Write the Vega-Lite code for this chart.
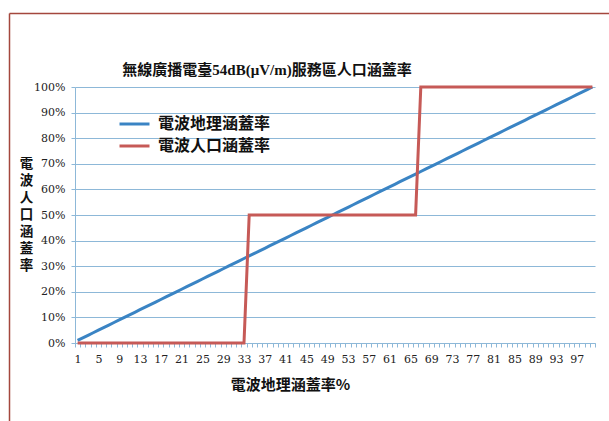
{
  "$schema": "https://vega.github.io/schema/vega-lite/v6.json",
  "width": 600,
  "height": 408,
  "autosize": {"type": "none"},
  "padding": {"left": 9, "top": 13, "right": 0, "bottom": 0},
  "background": "white",
  "config": {
    "view": {"stroke": null}
  },
  "title": {
    "text": "無線廣播電臺54dB(μV/m)服務區人口涵蓋率",
    "frame": "group",
    "anchor": "middle",
    "dx": -42,
    "offset": -72,
    "baseline": "middle",
    "font": "Liberation Serif, Noto Sans CJK TC",
    "fontSize": 15,
    "fontWeight": "bold",
    "color": "#111111"
  },
  "data": {
    "values": [
      {"c": 1, "geo": 0.01, "pop": 0}, {"c": 2, "geo": 0.02, "pop": 0}, {"c": 3, "geo": 0.03, "pop": 0}, {"c": 4, "geo": 0.04, "pop": 0},
      {"c": 5, "geo": 0.05, "pop": 0}, {"c": 6, "geo": 0.06, "pop": 0}, {"c": 7, "geo": 0.07, "pop": 0}, {"c": 8, "geo": 0.08, "pop": 0},
      {"c": 9, "geo": 0.09, "pop": 0}, {"c": 10, "geo": 0.10, "pop": 0}, {"c": 11, "geo": 0.11, "pop": 0}, {"c": 12, "geo": 0.12, "pop": 0},
      {"c": 13, "geo": 0.13, "pop": 0}, {"c": 14, "geo": 0.14, "pop": 0}, {"c": 15, "geo": 0.15, "pop": 0}, {"c": 16, "geo": 0.16, "pop": 0},
      {"c": 17, "geo": 0.17, "pop": 0}, {"c": 18, "geo": 0.18, "pop": 0}, {"c": 19, "geo": 0.19, "pop": 0}, {"c": 20, "geo": 0.20, "pop": 0},
      {"c": 21, "geo": 0.21, "pop": 0}, {"c": 22, "geo": 0.22, "pop": 0}, {"c": 23, "geo": 0.23, "pop": 0}, {"c": 24, "geo": 0.24, "pop": 0},
      {"c": 25, "geo": 0.25, "pop": 0}, {"c": 26, "geo": 0.26, "pop": 0}, {"c": 27, "geo": 0.27, "pop": 0}, {"c": 28, "geo": 0.28, "pop": 0},
      {"c": 29, "geo": 0.29, "pop": 0}, {"c": 30, "geo": 0.30, "pop": 0}, {"c": 31, "geo": 0.31, "pop": 0}, {"c": 32, "geo": 0.32, "pop": 0},
      {"c": 33, "geo": 0.33, "pop": 0}, {"c": 34, "geo": 0.34, "pop": 0.5}, {"c": 35, "geo": 0.35, "pop": 0.5}, {"c": 36, "geo": 0.36, "pop": 0.5},
      {"c": 37, "geo": 0.37, "pop": 0.5}, {"c": 38, "geo": 0.38, "pop": 0.5}, {"c": 39, "geo": 0.39, "pop": 0.5}, {"c": 40, "geo": 0.40, "pop": 0.5},
      {"c": 41, "geo": 0.41, "pop": 0.5}, {"c": 42, "geo": 0.42, "pop": 0.5}, {"c": 43, "geo": 0.43, "pop": 0.5}, {"c": 44, "geo": 0.44, "pop": 0.5},
      {"c": 45, "geo": 0.45, "pop": 0.5}, {"c": 46, "geo": 0.46, "pop": 0.5}, {"c": 47, "geo": 0.47, "pop": 0.5}, {"c": 48, "geo": 0.48, "pop": 0.5},
      {"c": 49, "geo": 0.49, "pop": 0.5}, {"c": 50, "geo": 0.50, "pop": 0.5}, {"c": 51, "geo": 0.51, "pop": 0.5}, {"c": 52, "geo": 0.52, "pop": 0.5},
      {"c": 53, "geo": 0.53, "pop": 0.5}, {"c": 54, "geo": 0.54, "pop": 0.5}, {"c": 55, "geo": 0.55, "pop": 0.5}, {"c": 56, "geo": 0.56, "pop": 0.5},
      {"c": 57, "geo": 0.57, "pop": 0.5}, {"c": 58, "geo": 0.58, "pop": 0.5}, {"c": 59, "geo": 0.59, "pop": 0.5}, {"c": 60, "geo": 0.60, "pop": 0.5},
      {"c": 61, "geo": 0.61, "pop": 0.5}, {"c": 62, "geo": 0.62, "pop": 0.5}, {"c": 63, "geo": 0.63, "pop": 0.5}, {"c": 64, "geo": 0.64, "pop": 0.5},
      {"c": 65, "geo": 0.65, "pop": 0.5}, {"c": 66, "geo": 0.66, "pop": 0.5}, {"c": 67, "geo": 0.67, "pop": 1}, {"c": 68, "geo": 0.68, "pop": 1},
      {"c": 69, "geo": 0.69, "pop": 1}, {"c": 70, "geo": 0.70, "pop": 1}, {"c": 71, "geo": 0.71, "pop": 1}, {"c": 72, "geo": 0.72, "pop": 1},
      {"c": 73, "geo": 0.73, "pop": 1}, {"c": 74, "geo": 0.74, "pop": 1}, {"c": 75, "geo": 0.75, "pop": 1}, {"c": 76, "geo": 0.76, "pop": 1},
      {"c": 77, "geo": 0.77, "pop": 1}, {"c": 78, "geo": 0.78, "pop": 1}, {"c": 79, "geo": 0.79, "pop": 1}, {"c": 80, "geo": 0.80, "pop": 1},
      {"c": 81, "geo": 0.81, "pop": 1}, {"c": 82, "geo": 0.82, "pop": 1}, {"c": 83, "geo": 0.83, "pop": 1}, {"c": 84, "geo": 0.84, "pop": 1},
      {"c": 85, "geo": 0.85, "pop": 1}, {"c": 86, "geo": 0.86, "pop": 1}, {"c": 87, "geo": 0.87, "pop": 1}, {"c": 88, "geo": 0.88, "pop": 1},
      {"c": 89, "geo": 0.89, "pop": 1}, {"c": 90, "geo": 0.90, "pop": 1}, {"c": 91, "geo": 0.91, "pop": 1}, {"c": 92, "geo": 0.92, "pop": 1},
      {"c": 93, "geo": 0.93, "pop": 1}, {"c": 94, "geo": 0.94, "pop": 1}, {"c": 95, "geo": 0.95, "pop": 1}, {"c": 96, "geo": 0.96, "pop": 1},
      {"c": 97, "geo": 0.97, "pop": 1}, {"c": 98, "geo": 0.98, "pop": 1}, {"c": 99, "geo": 0.99, "pop": 1}, {"c": 100, "geo": 1.00, "pop": 1}
    ]
  },
  "layer": [
    {
      "mark": {"type": "point", "opacity": 0, "clip": true},
      "encoding": {
        "x": {
          "field": "geo",
          "type": "quantitative",
          "scale": {"domain": [0, 1], "nice": false},
          "axis": {"orient": "top", "domainColor": "#a4473d", "domainWidth": 1.5, "ticks": false, "labels": false, "grid": false, "title": null}
        },
        "y": {
          "field": "geo",
          "type": "quantitative",
          "scale": {"domain": [0, 1], "nice": false},
          "axis": {"orient": "left", "domainColor": "#a4473d", "domainWidth": 1.5, "ticks": false, "labels": false, "grid": false, "title": null}
        }
      }
    },
    {
      "transform": [{"fold": ["geo", "pop"], "as": ["series", "value"]}],
      "mark": {"type": "line", "strokeWidth": 3},
      "encoding": {
        "x": {
          "field": "c",
          "type": "ordinal",
          "scale": {"type": "band", "range": [66, 586], "paddingInner": 0, "paddingOuter": 0},
          "axis": {
            "orient": "bottom",
            "title": "電波地理涵蓋率%",
            "offset": -78,
            "zindex": 0,
            "tickBand": "extent",
            "labelExpr": "(datum.value - 1) % 4 == 0 ? datum.label : ''",
            "labelAngle": 0,
            "labelOverlap": false,
            "labelFont": "DejaVu Serif",
            "labelFontSize": 11,
            "labelColor": "#222222",
            "labelPadding": 6,
            "tickColor": "#8db8d8",
            "tickSize": 4,
            "domainColor": "#8db8d8",
            "grid": false,
            "titleFont": "Noto Sans CJK TC",
            "titleFontSize": 15,
            "titleFontWeight": "bold",
            "titleColor": "#111111",
            "titleX": 281,
            "titleY": 41,
            "titleAlign": "center",
            "titleBaseline": "middle"
          }
        },
        "y": {
          "field": "value",
          "type": "quantitative",
          "scale": {"domain": [0, 1], "range": [330, 74]},
          "axis": {
            "orient": "left",
            "title": ["電", "波", "人", "口", "涵", "蓋", "率"],
            "offset": -66,
            "zindex": 0,
            "values": [0, 0.1, 0.2, 0.3, 0.4, 0.5, 0.6, 0.7, 0.8, 0.9, 1],
            "format": ".0%",
            "grid": true,
            "gridColor": "#8db8d8",
            "domainColor": "#8db8d8",
            "tickColor": "#8db8d8",
            "tickSize": 4,
            "labelPadding": 6,
            "labelFont": "DejaVu Serif",
            "labelFontSize": 11,
            "labelColor": "#222222",
            "titleAngle": 0,
            "titleX": -49,
            "titleY": 150,
            "titleAlign": "center",
            "titleBaseline": "middle",
            "titleLineHeight": 17,
            "titleFont": "Noto Sans CJK TC",
            "titleFontSize": 13.5,
            "titleFontWeight": "bold",
            "titleColor": "#111111"
          }
        },
        "color": {
          "field": "series",
          "type": "nominal",
          "scale": {"domain": ["geo", "pop"], "range": ["#3a84c4", "#c65a57"]},
          "legend": {
            "orient": "none",
            "legendX": 109,
            "legendY": 100,
            "title": null,
            "symbolType": "stroke",
            "symbolSize": 900,
            "symbolStrokeWidth": 3,
            "clipHeight": 22,
            "labelExpr": "datum.value == 'geo' ? '電波地理涵蓋率' : '電波人口涵蓋率'",
            "labelFont": "Noto Sans CJK TC",
            "labelFontSize": 16,
            "labelFontWeight": "bold",
            "labelColor": "#111111",
            "labelOffset": 7,
            "labelLimit": 300,
            "rowPadding": 0
          }
        }
      }
    }
  ],
  "resolve": {
    "scale": {"x": "independent", "y": "independent"},
    "axis": {"x": "independent", "y": "independent"}
  }
}
